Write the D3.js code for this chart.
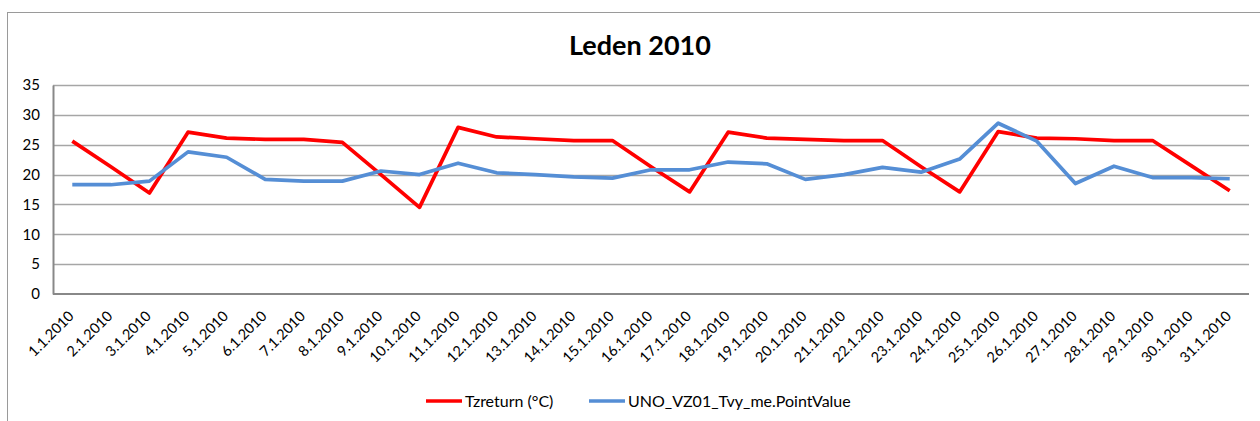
<!DOCTYPE html>
<html><head><meta charset="utf-8">
<script src="https://cdn.jsdelivr.net/npm/d3@7"></script>
<style>body{margin:0;background:#fff;} svg{display:block;font-family:Lato,"Open Sans",sans-serif;}</style>
</head><body>
<svg id="c" width="1260" height="421"></svg>
<script>
const categories = ["1.1.2010","2.1.2010","3.1.2010","4.1.2010","5.1.2010","6.1.2010","7.1.2010","8.1.2010","9.1.2010","10.1.2010","11.1.2010","12.1.2010","13.1.2010","14.1.2010","15.1.2010","16.1.2010","17.1.2010","18.1.2010","19.1.2010","20.1.2010","21.1.2010","22.1.2010","23.1.2010","24.1.2010","25.1.2010","26.1.2010","27.1.2010","28.1.2010","29.1.2010","30.1.2010","31.1.2010"];
const tzreturn = [25.6,21.3,16.9,27.1,26.1,25.9,25.9,25.4,20.0,14.5,27.9,26.3,26.0,25.7,25.7,21.3,17.1,27.1,26.1,25.9,25.7,25.7,21.3,17.1,27.2,26.1,26.0,25.7,25.7,21.5,17.3];
const unoValue = [18.3,18.3,18.9,23.8,22.9,19.2,18.9,18.9,20.6,20.0,21.9,20.3,20.0,19.6,19.4,20.8,20.8,22.1,21.8,19.2,20.0,21.2,20.4,22.6,28.6,25.6,18.5,21.4,19.5,19.5,19.3];
const yTicks = [0,5,10,15,20,25,30,35];
const seriesNames = ["Tzreturn (°C)","UNO_VZ01_Tvy_me.PointValue"];
const seriesColors = ["#FF0000","#558ED5"];

(function(){
const svg = d3.select("#c");
const pLeft = 53, pRight = 1249, pTop = 85, pBottom = 294;

// outer frame
svg.append("rect").attr("x",7.5).attr("y",12.5).attr("width",1300).attr("height",500)
  .attr("fill","none").attr("stroke","#9a9a9a").attr("stroke-width",1);

svg.append("text").attr("x",640).attr("y",55).attr("text-anchor","middle")
  .attr("font-size",27).attr("font-weight","bold").attr("fill","#000").text("Leden 2010");

const x = d3.scalePoint().domain(categories).range([pLeft, pRight]).padding(0.5);
const y = d3.scaleLinear().domain([0,35]).range([pBottom, pTop]);

// gridlines
svg.append("g").selectAll("line").data(yTicks.filter(d=>d>0)).join("line")
  .attr("x1",pLeft).attr("x2",pRight).attr("y1",d=>Math.round(y(d))+0.5).attr("y2",d=>Math.round(y(d))+0.5)
  .attr("stroke","#a6a6a6").attr("stroke-width",1.3);

// y axis
const yAxis = svg.append("g").attr("transform",`translate(${pLeft},0)`)
  .call(d3.axisLeft(y).tickValues(yTicks).tickSize(0).tickPadding(13));
yAxis.select(".domain").attr("stroke","#888").attr("stroke-width",2);
yAxis.selectAll("text").attr("font-size",15).attr("fill","#000").attr("font-family","Lato");

// x axis
const xAxis = svg.append("g").attr("transform",`translate(0,${pBottom})`)
  .call(d3.axisBottom(x).tickSize(0).tickFormat(d=>d));
xAxis.select(".domain").attr("d",`M${pLeft},0H${pRight}`).attr("stroke","#888").attr("stroke-width",2);
xAxis.selectAll("text").attr("font-size",14.5).attr("fill","#000").attr("font-family","Lato")
  .attr("text-anchor","end").attr("dy",null).attr("y",null)
  .attr("transform","translate(2,23) rotate(-45)");

const line = d3.line().x((d,i)=>x(categories[i])).y(d=>y(d));
[tzreturn, unoValue].forEach((s,k)=>{
  svg.append("path").datum(s).attr("d",line).attr("fill","none")
    .attr("stroke",seriesColors[k]).attr("stroke-width",3.7).attr("stroke-linejoin","round");
});

// legend
const legX = [426, 589];
seriesNames.forEach((n,k)=>{
  const g = svg.append("g").attr("transform",`translate(${legX[k]},401)`);
  g.append("line").attr("x1",0).attr("x2",36).attr("y1",0).attr("y2",0)
    .attr("stroke",seriesColors[k]).attr("stroke-width",3.7);
  g.append("text").attr("x",39).attr("y",5.5).attr("font-size",16).attr("fill","#000").text(n);
});
})();
</script>
</body></html>
